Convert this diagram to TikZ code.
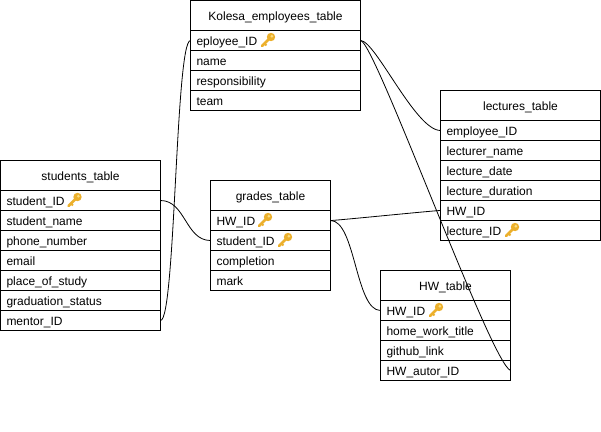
\documentclass[tikz,border=0pt]{standalone}
\usepackage{fontspec}
\setmainfont{Liberation Sans}
\usetikzlibrary{positioning}
\definecolor{keygold}{RGB}{236,176,44}
\definecolor{keylight}{RGB}{250,222,130}
\begin{document}
\begin{tikzpicture}[x=1pt, y=1pt,
headnode/.style={rectangle, draw=black, fill=white, line width=1pt, outer sep=0pt, minimum height=30pt, text height=10pt, text depth=0pt, font=\fontsize{12}{14}\selectfont},
rownode/.style={rectangle, draw=black, fill=white, line width=1pt, outer sep=0pt, minimum height=20pt, inner xsep=6pt, inner ysep=0pt, text height=10pt, text depth=0pt, align=left, font=\fontsize{12}{14}\selectfont},
link/.style={line width=0.8pt, black},
keyicon/.pic={
  \draw[keygold, line width=2.6pt, line cap=round] (-2,-2) -- (-9,-9);
  \draw[keygold, line width=1.8pt] (-6.5,-6.5) -- (-4.6,-8.4);
  \fill[keygold] (0,0) circle (4.2pt);
  \fill[keylight] (0.8,0.8) circle (1.5pt);
},
]
\useasboundingbox (0,0) rectangle (601,-431);
%Nodes
\node[headnode, minimum width=170pt, anchor=north west] (kolesa) at (190.5,-0.5) {Kolesa\_employees\_table};
\node[rownode, minimum width=170pt, text width=158pt, below=0pt of kolesa] (eployee) {eployee\_ID};
\node[rownode, minimum width=170pt, text width=158pt, below=0pt of eployee] (name) {name};
\node[rownode, minimum width=170pt, text width=158pt, below=0pt of name] (responsibility) {responsibility};
\node[rownode, minimum width=170pt, text width=158pt, below=0pt of responsibility] (team) {team};

\node[headnode, minimum width=160pt, anchor=north west] (lectures) at (440.5,-90.5) {lectures\_table};
\node[rownode, minimum width=160pt, text width=148pt, below=0pt of lectures] (employee) {employee\_ID};
\node[rownode, minimum width=160pt, text width=148pt, below=0pt of employee] (lecturer) {lecturer\_name};
\node[rownode, minimum width=160pt, text width=148pt, below=0pt of lecturer] (date) {lecture\_date};
\node[rownode, minimum width=160pt, text width=148pt, below=0pt of date] (duration) {lecture\_duration};
\node[rownode, minimum width=160pt, text width=148pt, below=0pt of duration] (hwlecture) {HW\_ID};
\node[rownode, minimum width=160pt, text width=148pt, below=0pt of hwlecture] (lecture) {lecture\_ID};

\node[headnode, minimum width=160pt, anchor=north west] (students) at (0.5,-160.5) {students\_table};
\node[rownode, minimum width=160pt, text width=148pt, below=0pt of students] (student) {student\_ID};
\node[rownode, minimum width=160pt, text width=148pt, below=0pt of student] (studentname) {student\_name};
\node[rownode, minimum width=160pt, text width=148pt, below=0pt of studentname] (phone) {phone\_number};
\node[rownode, minimum width=160pt, text width=148pt, below=0pt of phone] (email) {email};
\node[rownode, minimum width=160pt, text width=148pt, below=0pt of email] (place) {place\_of\_study};
\node[rownode, minimum width=160pt, text width=148pt, below=0pt of place] (graduation) {graduation\_status};
\node[rownode, minimum width=160pt, text width=148pt, below=0pt of graduation] (mentor) {mentor\_ID};

\node[headnode, minimum width=120pt, anchor=north west] (grades) at (210.5,-180.5) {grades\_table};
\node[rownode, minimum width=120pt, text width=108pt, below=0pt of grades] (hwgrades) {HW\_ID};
\node[rownode, minimum width=120pt, text width=108pt, below=0pt of hwgrades] (studentgrades) {student\_ID};
\node[rownode, minimum width=120pt, text width=108pt, below=0pt of studentgrades] (completion) {completion};
\node[rownode, minimum width=120pt, text width=108pt, below=0pt of completion] (mark) {mark};

\node[headnode, minimum width=130pt, anchor=north west] (hw) at (380.5,-270.5) {HW\_table};
\node[rownode, minimum width=130pt, text width=118pt, below=0pt of hw] (hwid) {HW\_ID};
\node[rownode, minimum width=130pt, text width=118pt, below=0pt of hwid] (title) {home\_work\_title};
\node[rownode, minimum width=130pt, text width=118pt, below=0pt of title] (github) {github\_link};
\node[rownode, minimum width=130pt, text width=118pt, below=0pt of github] (autor) {HW\_autor\_ID};

%Keys
\pic at (271,-37) {keyicon};
\pic at (515,-227) {keyicon};
\pic at (77.5,-197) {keyicon};
\pic at (268,-217) {keyicon};
\pic at (288,-237) {keyicon};
\pic at (439,-307) {keyicon};

%Lines
\draw[link] (mentor.east) .. controls +(15,0) and +(-15,0) .. (eployee.west);
\draw[link] (student.east) .. controls +(25,0) and +(-25,0) .. (studentgrades.west);
\draw[link] (eployee.east) .. controls +(15,0) and +(-25,0) .. (employee.west);
\draw[link] (eployee.east) .. controls +(14,0) and +(-20,8) .. (autor.east);
\draw[link] (hwgrades.east) .. controls +(6,0) and +(-6,0) .. (hwlecture.west);
\draw[link] (hwgrades.east) .. controls +(25,0) and +(-25,0) .. (hwid.west);
\end{tikzpicture}
\end{document}
